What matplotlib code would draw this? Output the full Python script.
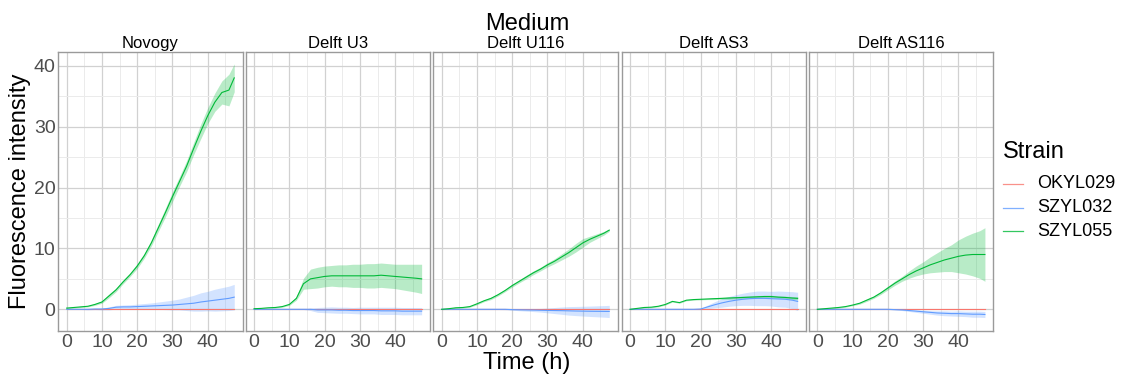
import matplotlib
matplotlib.use("Agg")
import matplotlib.pyplot as plt
from matplotlib.lines import Line2D
import numpy as np

plt.rcParams['font.family'] = ['Liberation Sans', 'DejaVu Sans']

# waktu pengukuran (jam)
time_h = [0, 2, 4, 6, 8, 10, 12, 14, 16, 18, 20, 22, 24, 26, 28, 30, 32, 34, 36, 38, 40, 42, 44, 46, 47.5]

media = ["Novogy", "Delft U3", "Delft U116", "Delft AS3", "Delft AS116"]
strains = ["OKYL029", "SZYL032", "SZYL055"]
strain_colors = ["#F8766D", "#619CFF", "#00BA38"]

# Novogy
novogy_029 = [0] * 25
novogy_029_sd = [0.05] * 25
novogy_032 = [0, 0, 0, 0, 0.05, 0.05, 0.15, 0.35, 0.4, 0.4, 0.45, 0.5, 0.55, 0.6, 0.65, 0.7, 0.8, 0.9, 1.0, 1.2, 1.35, 1.5, 1.65, 1.8, 2.0]
novogy_032_sd = [0.05, 0.05, 0.05, 0.1, 0.1, 0.15, 0.25, 0.3, 0.3, 0.35, 0.4, 0.45, 0.5, 0.6, 0.7, 0.8, 0.9, 1.1, 1.3, 1.5, 1.6, 1.8, 1.9, 2.0, 2.1]
novogy_055 = [0.2, 0.3, 0.4, 0.5, 0.8, 1.2, 2.2, 3.2, 4.5, 5.7, 7.1, 8.8, 10.9, 13.4, 15.9, 18.5, 21.0, 23.5, 26.4, 29.2, 31.8, 34.0, 35.6, 36.0, 38.0]
novogy_055_sd = [0.1, 0.1, 0.1, 0.1, 0.15, 0.2, 0.3, 0.3, 0.3, 0.3, 0.4, 0.4, 0.5, 0.6, 0.7, 0.8, 0.8, 0.9, 1.0, 1.2, 1.3, 1.5, 1.9, 2.6, 2.3]

# Delft U3
u3_029 = [0] * 25
u3_029_sd = [0.05] * 25
u3_032 = [0, 0, 0, 0, 0, 0, 0, 0, 0, -0.1, -0.1, -0.1, -0.15, -0.15, -0.2, -0.2, -0.2, -0.2, -0.25, -0.25, -0.25, -0.3, -0.3, -0.3, -0.3]
u3_032_sd = [0.05, 0.05, 0.05, 0.05, 0.05, 0.05, 0.05, 0.05, 0.2, 0.4, 0.45, 0.5, 0.5, 0.5, 0.5, 0.55, 0.55, 0.55, 0.6, 0.6, 0.6, 0.6, 0.6, 0.6, 0.6]
u3_055 = [0.1, 0.15, 0.25, 0.3, 0.45, 0.8, 1.8, 4.2, 5.0, 5.2, 5.4, 5.5, 5.5, 5.5, 5.5, 5.5, 5.5, 5.5, 5.6, 5.5, 5.4, 5.3, 5.2, 5.1, 5.0]
u3_055_sd = [0.05, 0.05, 0.05, 0.1, 0.1, 0.15, 0.3, 0.9, 1.6, 1.7, 1.7, 1.7, 1.8, 1.8, 1.9, 1.9, 2.0, 2.0, 2.0, 2.0, 2.0, 2.1, 2.2, 2.3, 2.4]

# Delft U116
u116_029 = [0] * 25
u116_029_sd = [0.05] * 25
u116_032 = [0, 0, 0, 0, 0, 0, 0, 0, 0, 0, -0.05, -0.08, -0.1, -0.12, -0.15, -0.18, -0.2, -0.22, -0.25, -0.28, -0.3, -0.32, -0.33, -0.34, -0.35]
u116_032_sd = [0.05, 0.05, 0.05, 0.05, 0.05, 0.05, 0.05, 0.05, 0.05, 0.08, 0.1, 0.15, 0.2, 0.25, 0.3, 0.4, 0.5, 0.6, 0.7, 0.75, 0.8, 0.85, 0.9, 0.95, 1.0]
u116_055 = [0, 0.1, 0.25, 0.3, 0.45, 0.9, 1.4, 1.8, 2.4, 3.1, 3.9, 4.6, 5.3, 6.0, 6.6, 7.3, 7.9, 8.6, 9.3, 10.1, 10.9, 11.5, 12.0, 12.5, 13.0]
u116_055_sd = [0.05, 0.1, 0.1, 0.1, 0.1, 0.15, 0.15, 0.2, 0.2, 0.2, 0.25, 0.25, 0.3, 0.3, 0.3, 0.35, 0.4, 0.5, 0.6, 0.7, 0.7, 0.5, 0.4, 0.3, 0.2]

# Delft AS3
as3_029 = [0] * 25
as3_029_sd = [0.05] * 25
as3_032 = [0, 0, 0, 0, 0, 0, 0, 0, 0, 0, 0.05, 0.4, 0.75, 1.05, 1.3, 1.5, 1.65, 1.75, 1.8, 1.8, 1.75, 1.7, 1.65, 1.5, 1.3]
as3_032_sd = [0.05, 0.05, 0.05, 0.05, 0.05, 0.05, 0.05, 0.05, 0.05, 0.05, 0.1, 0.3, 0.5, 0.7, 0.8, 0.9, 1.0, 1.1, 1.2, 1.2, 1.2, 1.3, 1.3, 1.4, 1.5]
as3_055 = [0, 0.15, 0.3, 0.35, 0.5, 0.8, 1.3, 1.1, 1.5, 1.6, 1.65, 1.7, 1.75, 1.8, 1.85, 1.9, 1.95, 2.0, 2.05, 2.1, 2.1, 2.0, 1.95, 1.85, 1.8]
as3_055_sd = [0.05, 0.1, 0.1, 0.1, 0.1, 0.1, 0.1, 0.1, 0.1, 0.1, 0.1, 0.1, 0.15, 0.15, 0.2, 0.2, 0.2, 0.2, 0.2, 0.2, 0.2, 0.2, 0.2, 0.25, 0.25]

# Delft AS116
as116_029 = [0] * 25
as116_029_sd = [0.05] * 25
as116_032 = [0, 0, 0, 0, 0, 0, 0, 0, 0, 0, 0, -0.05, -0.1, -0.2, -0.3, -0.4, -0.5, -0.6, -0.65, -0.7, -0.7, -0.75, -0.8, -0.8, -0.85]
as116_032_sd = [0.05, 0.05, 0.05, 0.05, 0.05, 0.05, 0.05, 0.05, 0.05, 0.05, 0.05, 0.08, 0.1, 0.15, 0.2, 0.25, 0.3, 0.35, 0.4, 0.4, 0.45, 0.45, 0.5, 0.5, 0.5]
as116_055 = [0, 0.1, 0.2, 0.3, 0.45, 0.7, 1.0, 1.5, 2.0, 2.7, 3.5, 4.3, 5.0, 5.7, 6.3, 6.8, 7.3, 7.7, 8.1, 8.4, 8.7, 8.9, 9.0, 9.0, 9.0]
as116_055_sd = [0.05, 0.05, 0.1, 0.1, 0.1, 0.1, 0.15, 0.2, 0.2, 0.25, 0.3, 0.35, 0.4, 0.6, 0.8, 1.0, 1.3, 1.6, 1.9, 2.2, 2.7, 3.1, 3.5, 3.9, 4.4]

panel_data = [
    [(novogy_029, novogy_029_sd), (novogy_032, novogy_032_sd), (novogy_055, novogy_055_sd)],
    [(u3_029, u3_029_sd), (u3_032, u3_032_sd), (u3_055, u3_055_sd)],
    [(u116_029, u116_029_sd), (u116_032, u116_032_sd), (u116_055, u116_055_sd)],
    [(as3_029, as3_029_sd), (as3_032, as3_032_sd), (as3_055, as3_055_sd)],
    [(as116_029, as116_029_sd), (as116_032, as116_032_sd), (as116_055, as116_055_sd)],
]

W, H = 1121, 374
fig = plt.figure(figsize=(W / 100, H / 100), dpi=100)

lefts = [58.3, 245.7, 433.3, 621.7, 809.0]
pw, top, bottom = 184.3, 51.7, 331.0
t = np.array(time_h)

for i, name in enumerate(media):
    ax = fig.add_axes([lefts[i] / W, 1 - bottom / H, pw / W, (bottom - top) / H])
    ax.set_xlim(-2.375, 49.875)
    ax.set_ylim(-3.56, 42.3)
    ax.set_xticks([0, 10, 20, 30, 40])
    ax.set_xticks([5, 15, 25, 35, 45], minor=True)
    ax.set_yticks([0, 10, 20, 30, 40])
    ax.set_yticks([5, 15, 25, 35], minor=True)
    ax.grid(True, which='major', color='#D1D1D1', lw=0.9)
    ax.grid(True, which='minor', color='#EBEBEB', lw=0.7)
    ax.set_axisbelow(True)
    ax.tick_params(which='both', length=0, labelsize=14, labelcolor='#4D4D4D', pad=2)
    if i > 0:
        ax.tick_params(axis='y', labelleft=False)
    for s in ax.spines.values():
        s.set_color('#9A9A9A')
        s.set_linewidth(1.0)

    for (mean, sd), col in zip(panel_data[i], strain_colors):
        m = np.array(mean)
        e = np.array(sd)
        ax.fill_between(t, m - e, m + e, color=col, alpha=0.28, lw=0)
    for (mean, sd), col in zip(panel_data[i], strain_colors):
        ax.plot(t, mean, color=col, lw=0.8)

    ax.set_title(name, fontsize=12, pad=2.5)

fig.text(527 / W, 1 - 30 / H, "Medium", fontsize=17, ha='center', va='baseline')
fig.text(527 / W, 1 - 368.5 / H, "Time (h)", fontsize=17, ha='center', va='baseline')
fig.text(20 / W, 1 - 191 / H, "Fluorescence intensity", fontsize=17, rotation=90,
         ha='center', va='center')

# legenda manual
fig.text(1003 / W, 1 - 152 / H, "Strain", fontsize=17, ha='left', va='center')
for k, (lab, col) in enumerate(zip(strains, strain_colors)):
    y = 1 - (184 + k * 23.5) / H
    fig.add_artist(Line2D([1003 / W, 1023 / W], [y, y], color=col, lw=0.9, alpha=0.8))
    fig.text(1037 / W, y, lab, fontsize=13, ha='left', va='center')

fig.savefig("out.png", dpi=100)
